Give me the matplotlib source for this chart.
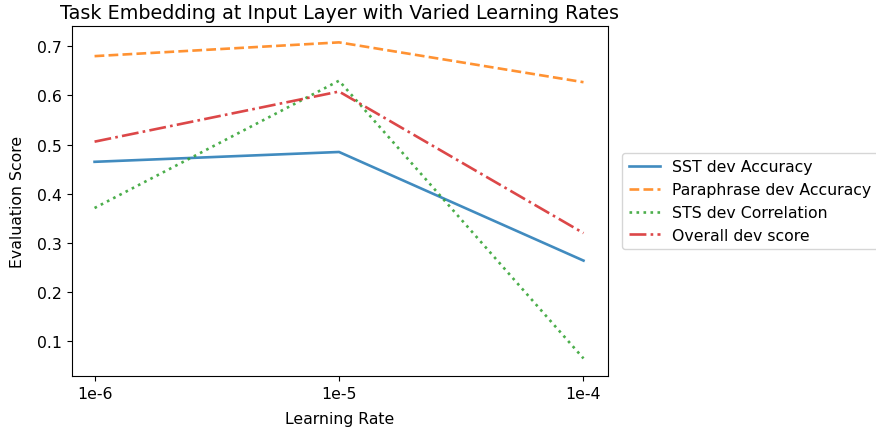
import matplotlib.pyplot as plt

learning_rates = ['1e-6', '1e-5', '1e-4']
sst_acc = [0.465, 0.485, 0.264]
para_acc = [0.680, 0.708, 0.627]
sts_corr = [0.371, 0.630, 0.065]
overall = [0.506, 0.608, 0.320]

series = [
    ('SST dev Accuracy', sst_acc, '-'),
    ('Paraphrase dev Accuracy', para_acc, '--'),
    ('STS dev Correlation', sts_corr, ':'),
    ('Overall dev score', overall, '-.'),
]
colors = plt.colormaps.get_cmap('tab10').colors

fig = plt.figure(figsize=(8.76, 4.31), dpi=100)
ax = fig.add_axes([0.082, 0.125, 0.612, 0.812])

x = range(len(learning_rates))
for i, (name, vals, ls) in enumerate(series):
    ax.plot(x, vals, ls, color=colors[i], linewidth=1.9, alpha=0.85, label=name)

ax.set_xticks(list(x))
ax.set_xticklabels(learning_rates)
ax.set_xlim(-0.093, 2.1)
ax.set_ylim(0.029, 0.741)
ax.tick_params(labelsize=11.3)
ax.set_xlabel('Learning Rate', fontsize=11.3, labelpad=7)
ax.set_ylabel('Evaluation Score', fontsize=11.3, labelpad=9)
ax.set_title('Task Embedding at Input Layer with Varied Learning Rates', fontsize=13.8)
ax.legend(loc='center left', bbox_to_anchor=(1.012, 0.5), fontsize=11.3)

fig.savefig('out.png', dpi=100)
